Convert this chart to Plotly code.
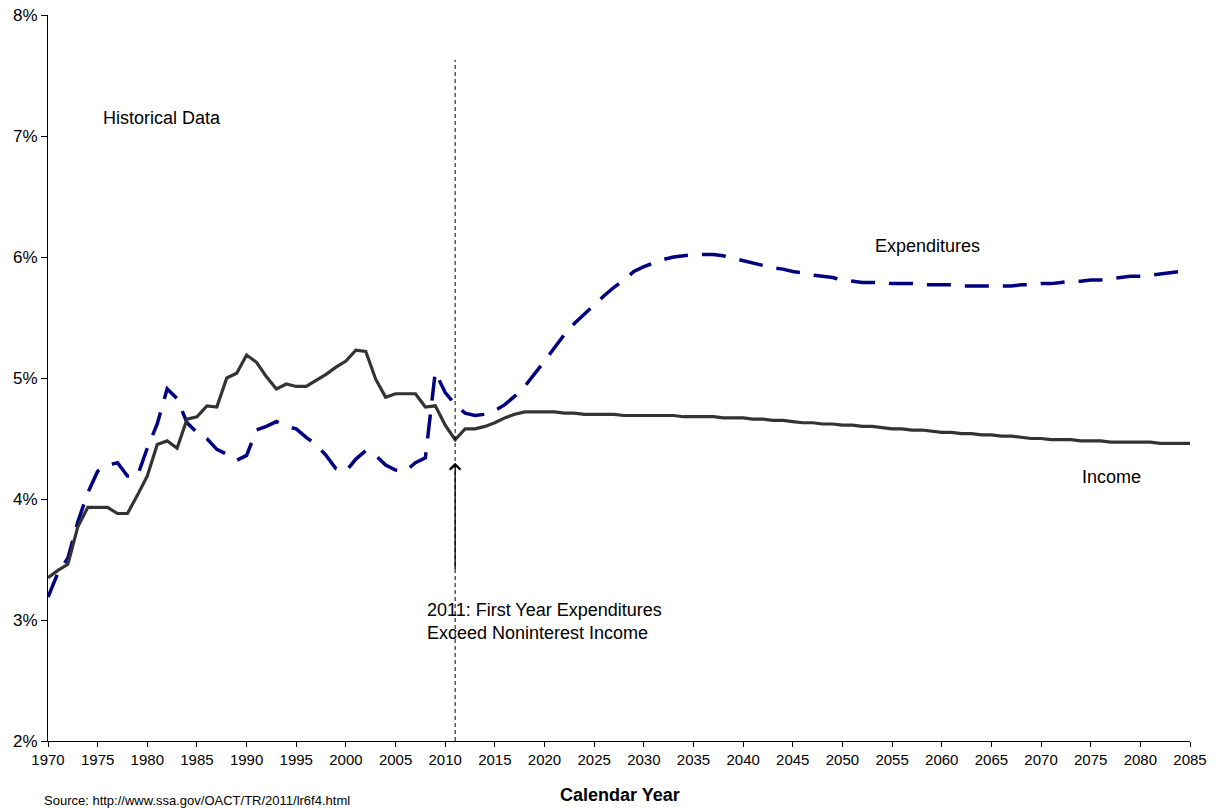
import plotly.graph_objects as go

years = list(range(1970, 2086))

income = [
    3.35, 3.41, 3.46, 3.77, 3.93, 3.93, 3.93, 3.88, 3.88, 4.03,   # 1970-1979
    4.19, 4.45, 4.48, 4.42, 4.66, 4.68, 4.77, 4.76, 5.00, 5.04,   # 1980-1989
    5.19, 5.13, 5.01, 4.91, 4.95, 4.93, 4.93, 4.98, 5.03, 5.09,   # 1990-1999
    5.14, 5.23, 5.22, 4.99, 4.84, 4.87, 4.87, 4.87, 4.76, 4.77,   # 2000-2009
    4.61, 4.49, 4.58, 4.58, 4.60, 4.63, 4.67, 4.70, 4.72, 4.72,   # 2010-2019
    4.72, 4.72, 4.71, 4.71, 4.70, 4.70, 4.70, 4.70, 4.69, 4.69,   # 2020-2029
    4.69, 4.69, 4.69, 4.69, 4.68, 4.68, 4.68, 4.68, 4.67, 4.67,   # 2030-2039
    4.67, 4.66, 4.66, 4.65, 4.65, 4.64, 4.63, 4.63, 4.62, 4.62,   # 2040-2049
    4.61, 4.61, 4.60, 4.60, 4.59, 4.58, 4.58, 4.57, 4.57, 4.56,   # 2050-2059
    4.55, 4.55, 4.54, 4.54, 4.53, 4.53, 4.52, 4.52, 4.51, 4.50,   # 2060-2069
    4.50, 4.49, 4.49, 4.49, 4.48, 4.48, 4.48, 4.47, 4.47, 4.47,   # 2070-2079
    4.47, 4.47, 4.46, 4.46, 4.46, 4.46,                           # 2080-2085
]

expenditures = [
    3.19, 3.39, 3.51, 3.81, 4.05, 4.23, 4.28, 4.30, 4.19, 4.19,   # 1970-1979
    4.42, 4.62, 4.91, 4.83, 4.63, 4.55, 4.50, 4.41, 4.37, 4.32,   # 1980-1989
    4.36, 4.57, 4.60, 4.64, 4.60, 4.58, 4.51, 4.45, 4.36, 4.25,   # 1990-1999
    4.23, 4.33, 4.40, 4.36, 4.28, 4.24, 4.23, 4.30, 4.34, 5.05,   # 2000-2009
    4.88, 4.78, 4.71, 4.69, 4.70, 4.73, 4.78, 4.85, 4.93, 5.03,   # 2010-2019
    5.14, 5.25, 5.36, 5.45, 5.53, 5.61, 5.68, 5.75, 5.81, 5.88,   # 2020-2029
    5.92, 5.95, 5.98, 6.00, 6.01, 6.02, 6.02, 6.02, 6.01, 5.99,   # 2030-2039
    5.97, 5.95, 5.93, 5.91, 5.90, 5.88, 5.87, 5.85, 5.84, 5.83,   # 2040-2049
    5.81, 5.80, 5.79, 5.79, 5.79, 5.78, 5.78, 5.78, 5.77, 5.77,   # 2050-2059
    5.77, 5.77, 5.76, 5.76, 5.76, 5.76, 5.76, 5.76, 5.77, 5.77,   # 2060-2069
    5.78, 5.78, 5.79, 5.80, 5.80, 5.81, 5.81, 5.82, 5.83, 5.84,   # 2070-2079
    5.84, 5.85, 5.86, 5.87, 5.88, 5.89,                           # 2080-2085
]

y_ticks = [2, 3, 4, 5, 6, 7, 8]
y_tick_labels = ["2%", "3%", "4%", "5%", "6%", "7%", "8%"]
crossover_year = 2011

FONT = "Liberation Sans, Arial, sans-serif"

fig = go.Figure()
fig.add_trace(go.Scatter(
    x=years, y=expenditures, mode="lines", name="Expenditures",
    line=dict(color="#000080", width=3.5, dash="24px,14px"),
))
fig.add_trace(go.Scatter(
    x=years, y=income, mode="lines", name="Income",
    line=dict(color="#333333", width=3.2),
))

# vertical dashed line at crossover year
fig.add_shape(type="line", xref="x", yref="y",
              x0=crossover_year, x1=crossover_year, y0=2, y1=7.63,
              line=dict(color="black", width=1, dash="4px,3px"))

# arrow
fig.add_annotation(x=crossover_year, y=4.30, ax=crossover_year, ay=3.41,
                   xref="x", yref="y", axref="x", ayref="y",
                   text="", showarrow=True, arrowhead=4, arrowsize=1.6,
                   arrowwidth=1.3, arrowcolor="black", standoff=0)

txt = dict(family=FONT, size=18, color="black")
fig.add_annotation(x=2007.97, y=2.99, xref="x", yref="y",
                   text="2011: First Year Expenditures<br>Exceed Noninterest Income",
                   showarrow=False, xanchor="left", yanchor="middle", align="left",
                   font=txt)
fig.add_annotation(x=1975.34, y=7.15, xref="x", yref="y", text="Historical Data",
                   showarrow=False, xanchor="left", yanchor="middle", font=txt)
fig.add_annotation(x=2053.1, y=6.09, xref="x", yref="y", text="Expenditures",
                   showarrow=False, xanchor="left", yanchor="middle", font=txt)
fig.add_annotation(x=2073.9, y=4.18, xref="x", yref="y", text="Income",
                   showarrow=False, xanchor="left", yanchor="middle", font=txt)

fig.add_annotation(x=0.501, y=-0.0744, xref="paper", yref="paper",
                   text="<b>Calendar Year</b>", showarrow=False,
                   xanchor="center", yanchor="middle",
                   font=dict(family=FONT, size=18, color="black"))
fig.add_annotation(x=-0.00525, y=-0.0826, xref="paper", yref="paper",
                   text="Source: http://www.ssa.gov/OACT/TR/2011/lr6f4.html",
                   showarrow=False, xanchor="left", yanchor="middle",
                   font=dict(family=FONT, size=13, color="black"))

fig.update_layout(
    width=1221, height=809,
    margin=dict(l=48, r=31, t=15, b=68),
    paper_bgcolor="white", plot_bgcolor="white",
    showlegend=False,
    font=dict(family=FONT, color="black"),
)
fig.update_xaxes(
    range=[1970, 2085], tick0=1970, dtick=5, tickmode="linear",
    showline=True, linecolor="black", linewidth=1,
    ticks="outside", ticklen=5, tickcolor="black",
    showgrid=False, zeroline=False, automargin=False,
    tickfont=dict(family=FONT, size=15, color="black"),
)
fig.update_yaxes(
    range=[2, 8], tickvals=y_ticks, ticktext=y_tick_labels,
    showline=True, linecolor="black", linewidth=1,
    ticks="outside", ticklen=6, tickcolor="black",
    showgrid=False, zeroline=False, automargin=False,
    tickfont=dict(family=FONT, size=17, color="black"),
)

fig.write_html(
    "out.html",
    config={"displayModeBar": False},
    post_script="document.body.style.margin='0';document.body.style.overflow='hidden';",
)
